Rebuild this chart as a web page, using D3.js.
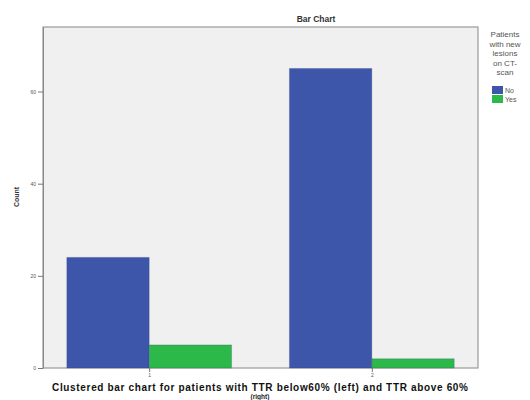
<!DOCTYPE html>
<html>
<head>
  <title>Bar Chart</title>
  <script src="https://d3js.org/d3.v7.min.js"></script>
  <style>
    body { margin: 0; background: #fff; }
    text { font-family: "Liberation Sans", Arial, sans-serif; }
  </style>
</head>
<body>
  <svg id="chart" width="530" height="400"></svg>

  <script>
    // Data
    var groups = ["1", "2"];
    var series = ["No", "Yes"];
    var noValues = [24, 65];
    var yesValues = [5, 2];
    var yTicks = [0, 20, 40, 60];
    var colors = ["#3e56aa", "#2db84a"];

    var margin = { top: 27, right: 52, bottom: 32, left: 43 };
    var width = 530 - margin.left - margin.right;
    var height = 400 - margin.top - margin.bottom;

    var svg = d3.select("#chart")
      .append("g")
      .attr("transform", "translate(" + margin.left + "," + margin.top + ")");

    // plot background
    svg.append("rect")
      .attr("width", width)
      .attr("height", height)
      .attr("fill", "#f0f0f0")
      .attr("stroke", "#9a9a9a")
      .attr("stroke-width", 1.2);

    var x0 = d3.scaleBand()
      .domain(groups)
      .range([0, width])
      .paddingInner(0.26)
      .paddingOuter(0.107);

    var x1 = d3.scaleBand()
      .domain(series)
      .range([0, x0.bandwidth()]);

    var y = d3.scaleLinear()
      .domain([0, 74])
      .range([height, 0]);

    var rows = groups.map(function(g, i) {
      return { group: g, values: [noValues[i], yesValues[i]] };
    });

    var cluster = svg.selectAll(".cluster")
      .data(rows)
      .enter().append("g")
      .attr("class", "cluster")
      .attr("transform", function(d) { return "translate(" + x0(d.group) + ",0)"; });

    cluster.selectAll("rect")
      .data(function(d) { return d.values.map(function(v, j) { return { s: series[j], v: v, c: colors[j] }; }); })
      .enter().append("rect")
      .attr("x", function(d) { return x1(d.s); })
      .attr("y", function(d) { return y(d.v); })
      .attr("width", x1.bandwidth())
      .attr("height", function(d) { return height - y(d.v); })
      .attr("fill", function(d) { return d.c; })
      .attr("stroke", "#2a3a7a")
      .attr("stroke-opacity", 0.25);

    // axes
    var yAxis = d3.axisLeft(y).tickValues(yTicks).tickSizeInner(5).tickSizeOuter(0).tickPadding(2);
    var gy = svg.append("g").call(yAxis);
    gy.select(".domain").attr("stroke", "#888");
    gy.selectAll(".tick line").attr("stroke", "#777");
    gy.selectAll("text").attr("font-size", 5).attr("fill", "#555");

    var xTickPos = d3.scalePoint().domain(groups).range([x0(groups[0]) + x1.bandwidth(), x0(groups[1]) + x1.bandwidth()]);
    var xAxis = d3.axisBottom(xTickPos).tickSize(4).tickPadding(1);
    var gx = svg.append("g")
      .attr("transform", "translate(0," + height + ")")
      .call(xAxis);
    gx.select(".domain").remove();
    gx.selectAll(".tick line").attr("stroke", "#777");
    gx.selectAll("text").attr("font-size", 5).attr("fill", "#555");

    // title
    d3.select("#chart").append("text")
      .attr("x", 316)
      .attr("y", 22)
      .attr("text-anchor", "middle")
      .attr("font-size", 8.5)
      .attr("font-weight", "bold")
      .attr("fill", "#333")
      .text("Bar Chart");

    // y label
    d3.select("#chart").append("text")
      .attr("transform", "translate(19,197) rotate(-90)")
      .attr("text-anchor", "middle")
      .attr("font-size", 7)
      .attr("font-weight", "bold")
      .attr("fill", "#333")
      .text("Count");

    // x label
    d3.select("#chart").append("text")
      .attr("x", 52)
      .attr("y", 391)
      .attr("font-size", 10)
      .attr("font-weight", "bold")
      .attr("fill", "#111")
      .attr("textLength", 416)
      .attr("lengthAdjust", "spacing")
      .text("Clustered bar chart for patients with TTR below60% (left) and TTR above 60%");
    d3.select("#chart").append("text")
      .attr("x", 260)
      .attr("y", 399)
      .attr("text-anchor", "middle")
      .attr("font-size", 6.5)
      .attr("font-weight", "bold")
      .attr("fill", "#222")
      .text("(right)");

    // legend
    var legendTitle = ["Patients", "with new", "lesions", "on CT-", "scan"];
    var legend = d3.select("#chart").append("g")
      .attr("transform", "translate(505,0)");
    legend.selectAll(".lt")
      .data(legendTitle)
      .enter().append("text")
      .attr("class", "lt")
      .attr("x", 0)
      .attr("y", function(d, i) { return 37 + i * 9.5; })
      .attr("text-anchor", "middle")
      .attr("font-size", 8)
      .attr("fill", "#555")
      .text(function(d) { return d; });

    var items = legend.selectAll(".li")
      .data(series)
      .enter().append("g")
      .attr("class", "li")
      .attr("transform", function(d, i) { return "translate(-13," + (86 + i * 9) + ")"; });
    items.append("rect")
      .attr("width", 11)
      .attr("height", 8)
      .attr("fill", function(d, i) { return colors[i]; });
    items.append("text")
      .attr("x", 13)
      .attr("y", 7)
      .attr("font-size", 7)
      .attr("fill", "#555")
      .text(function(d) { return d; });
  </script>
</body>
</html>
